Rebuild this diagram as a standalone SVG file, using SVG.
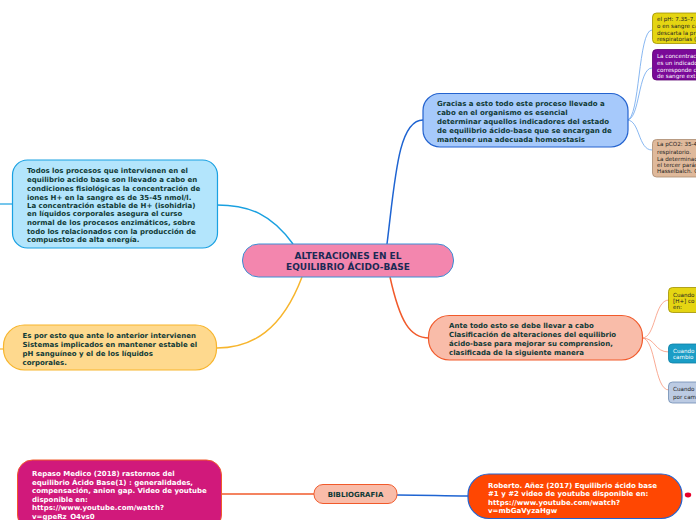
<svg xmlns="http://www.w3.org/2000/svg" width="696" height="520" viewBox="0 0 696 520">
<style>
text{font-family:"DejaVu Sans","Liberation Sans",sans-serif;font-weight:bold;}
.t{font-size:7px;fill:#103a36;}
.w{font-size:7px;fill:#ffffff;}
.c{font-size:9px;fill:#1b2a55;}
.s{font-size:5.6px;font-weight:normal;fill:#222;}
.sw{font-size:5.6px;font-weight:normal;fill:#fff;}
.conn path{fill:none;}
</style>
<rect width="696" height="520" fill="#ffffff"/>
<g id="connectors" class="conn">
<path d="M387 244 C395 180 398 120 423 120" stroke="#1e64d2" stroke-width="1.5"/>
<path d="M293 244 C272 215 250 205 217 205" stroke="#19a0e0" stroke-width="1.5"/>
<path d="M0 204 L13 204" stroke="#19a0e0" stroke-width="1.2"/>
<path d="M302 277 C282 330 252 348 217 348" stroke="#f7b52d" stroke-width="1.5"/>
<path d="M0 349 L4 349" stroke="#f7b52d" stroke-width="1.2"/>
<path d="M390 277 C400 322 410 338 429 338" stroke="#f15a2b" stroke-width="1.5"/>
<path d="M627 120 C640 120 638 30 652 30" stroke="#6aa4ee" stroke-width="0.8"/>
<path d="M627 120 C640 120 638 68 652 68" stroke="#6aa4ee" stroke-width="0.8"/>
<path d="M627 120 C640 120 638 150 652 150" stroke="#6aa4ee" stroke-width="0.8"/>
<path d="M642 338 C656 338 654 300 669 300" stroke="#f8957a" stroke-width="0.8"/>
<path d="M642 338 C656 338 654 352 669 352" stroke="#f8957a" stroke-width="0.8"/>
<path d="M642 338 C656 338 654 390 669 390" stroke="#f8957a" stroke-width="0.8"/>
<path d="M221 494 L314 494" stroke="#f15a2b" stroke-width="1.5"/>
<path d="M397 495 C430 495 440 496 468 496" stroke="#1e64d2" stroke-width="1.5"/>
</g>
<g id="central">
<rect x="242.5" y="244" width="211" height="33" rx="16" fill="#f386ae" stroke="#3a8fd6" stroke-width="1"/>
<text class="c" x="348" y="259" text-anchor="middle">ALTERACIONES EN EL</text>
<text class="c" x="348" y="269.5" text-anchor="middle">EQUILIBRIO ÁCIDO-BASE</text>
</g>
<g id="gracias">
<rect x="423" y="93.5" width="205" height="53.5" rx="17" fill="#a6c9fb" stroke="#2463cf" stroke-width="1.2"/>
<text class="t" x="437" y="106">Gracias a esto todo este proceso llevado a</text>
<text class="t" x="437" y="115">cabo en el organismo es esencial</text>
<text class="t" x="437" y="124">determinar aquellos indicadores del estado</text>
<text class="t" x="437" y="133">de equilibrio ácido-base que se encargan de</text>
<text class="t" x="437" y="141.5">mantener una adecuada homeostasis</text>
</g>
<g id="todos">
<rect x="12.5" y="160" width="205" height="88" rx="15" fill="#b3e5fc" stroke="#1aa1e2" stroke-width="1.2"/>
<text class="t" x="27" y="173">Todos los procesos que intervienen en el</text>
<text class="t" x="27" y="182">equilibrio acido base son llevado a cabo en</text>
<text class="t" x="27" y="190.5">condiciones fisiológicas la concentración de</text>
<text class="t" x="27" y="199.5">iones H+ en la sangre es de 35-45 nmol/l.</text>
<text class="t" x="27" y="207.5">La concentración estable de H+ (isohidria)</text>
<text class="t" x="27" y="216">en líquidos corporales asegura el curso</text>
<text class="t" x="27" y="225">normal de los procesos enzimáticos, sobre</text>
<text class="t" x="27" y="233.5">todo los relacionados con la producción de</text>
<text class="t" x="27" y="241.5">compuestos de alta energía.</text>
</g>
<g id="espor">
<rect x="3.5" y="325" width="213" height="45" rx="21" fill="#fed98e" stroke="#f7b52d" stroke-width="1.2"/>
<text class="t" x="22.5" y="338">Es por esto que ante lo anterior intervienen</text>
<text class="t" x="22.5" y="347">Sistemas implicados en mantener estable el</text>
<text class="t" x="22.5" y="356">pH sanguíneo y el de los líquidos</text>
<text class="t" x="22.5" y="364.5">corporales.</text>
</g>
<g id="ante">
<rect x="428.5" y="315.5" width="214" height="44.5" rx="21" fill="#f9bca9" stroke="#f15a2b" stroke-width="1.2"/>
<text class="t" x="449" y="328">Ante todo esto se debe llevar a cabo</text>
<text class="t" x="449" y="337">Clasificación de alteraciones del equilibrio</text>
<text class="t" x="449" y="346">ácido-base para mejorar su comprension,</text>
<text class="t" x="449" y="354.5">clasificada de la siguiente manera</text>
</g>
<g id="biblio">
<rect x="314" y="484.5" width="83" height="19" rx="9" fill="#f9bca9" stroke="#f15a2b" stroke-width="1"/>
<text class="t" x="355.5" y="497" text-anchor="middle">BIBLIOGRAFIA</text>
</g>
<g id="repaso">
<rect x="17.5" y="460" width="204" height="70" rx="15" fill="#d1197b" stroke="#f15a2b" stroke-width="1"/>
<text class="w" x="32" y="476">Repaso Medico (2018) rastornos del</text>
<text class="w" x="32" y="484.5">equilibrio Ácido Base(1) : generalidades,</text>
<text class="w" x="32" y="493">compensación, anion gap. Video de youtube</text>
<text class="w" x="32" y="501.5">disponible en:</text>
<text class="w" x="32" y="510">https://www.youtube.com/watch?</text>
<text class="w" x="32" y="518.5">v=gpeRz_O4vs0</text>
</g>
<g id="roberto">
<rect x="468" y="474" width="214" height="44.5" rx="21" fill="#ff4702" stroke="#2463cf" stroke-width="1.2"/>
<text class="w" x="488" y="487.5">Roberto. Añez (2017) Equilibrio ácido base</text>
<text class="w" x="488" y="496">#1 y #2 video de youtube disponible en:</text>
<text class="w" x="488" y="504.5">https://www.youtube.com/watch?</text>
<text class="w" x="488" y="513">v=mbGaVyzaHgw</text>
<ellipse cx="688" cy="495" rx="3.2" ry="2.4" fill="#e8002a"/>
</g>
<g id="ph">
<rect x="652.5" y="13" width="60" height="30.5" rx="4" fill="#e5d512" stroke="#a09000" stroke-width="0.8"/>
<text class="s" x="657" y="21">el pH: 7.35-7.</text>
<text class="s" x="657" y="27.5">o en sangre ca</text>
<text class="s" x="657" y="34.5">descarta la pr</text>
<text class="s" x="657" y="40.5">respiratorias (</text>
</g>
<g id="concentracion">
<rect x="652.5" y="49.5" width="60" height="30.5" rx="4" fill="#7a0a98" stroke="#5a0070" stroke-width="0.8"/>
<text class="sw" x="657" y="58">La concentrac</text>
<text class="sw" x="657" y="64.5">es un indicado</text>
<text class="sw" x="657" y="71.5">corresponde c</text>
<text class="sw" x="657" y="77.5">de sangre ext</text>
</g>
<g id="pco2">
<rect x="652.5" y="139.5" width="60" height="37.5" rx="4" fill="#dfb99b" stroke="#a98a70" stroke-width="0.8"/>
<text class="s" x="657" y="146" fill="#444">La pCO2: 35-4</text>
<text class="s" x="657" y="153.5">respiratorio.</text>
<text class="s" x="657" y="160.5">La determinac</text>
<text class="s" x="657" y="167">el tercer parám</text>
<text class="s" x="657" y="173">Hasselbalch. C</text>
</g>
<g id="cuando1">
<rect x="668.5" y="287.5" width="40" height="25" rx="4" fill="#e5d512" stroke="#a09000" stroke-width="0.8"/>
<text class="s" x="673" y="297">Cuando</text>
<text class="s" x="673" y="302.5">[H+] co</text>
<text class="s" x="673" y="308.5">en:</text>
</g>
<g id="cuando2">
<rect x="668.5" y="344" width="40" height="19" rx="4" fill="#1a9dc6" stroke="#0d7fa5" stroke-width="0.8"/>
<text class="sw" x="673" y="352.5">Cuando</text>
<text class="sw" x="673" y="359">cambio</text>
</g>
<g id="cuando3">
<rect x="668.5" y="382" width="40" height="21" rx="4" fill="#bccbe3" stroke="#6f8bb3" stroke-width="0.8"/>
<text class="s" x="673" y="391">Cuando</text>
<text class="s" x="673" y="398.5">por cam</text>
</g>
</svg>
